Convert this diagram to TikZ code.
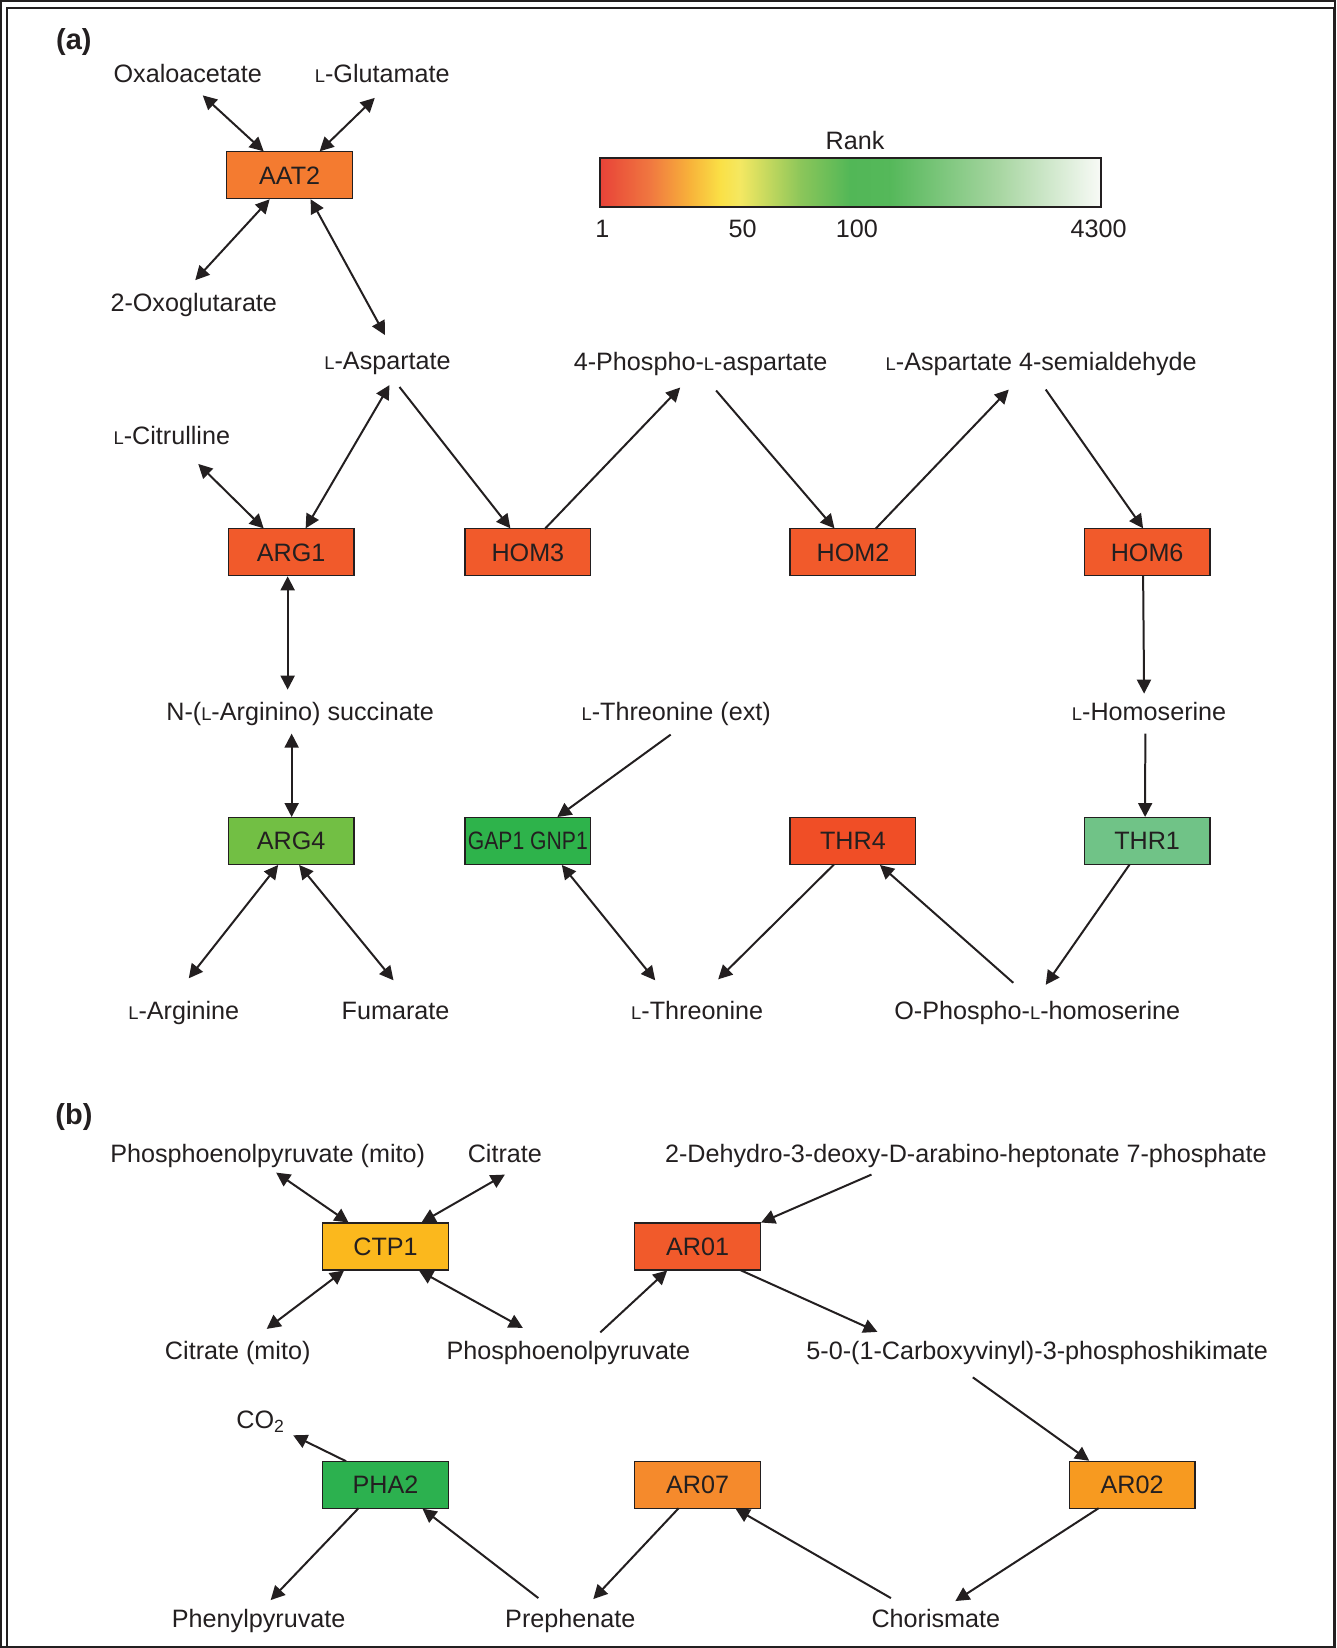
\documentclass[tikz,border=0pt]{standalone}
\usepackage{fontspec}
\setmainfont{Liberation Sans}
\usetikzlibrary{calc,arrows.meta}

\definecolor{ink}{HTML}{231F20}
\definecolor{aatc}{HTML}{F47B30}
\definecolor{homc}{HTML}{F15A2B}
\definecolor{thrfour}{HTML}{F04E26}
\definecolor{argfour}{HTML}{72BF44}
\definecolor{gapc}{HTML}{2EB34B}
\definecolor{throne}{HTML}{70C387}
\definecolor{ctpc}{HTML}{FBB81D}
\definecolor{phac}{HTML}{2CB14F}
\definecolor{arosev}{HTML}{F58A2C}
\definecolor{arotwo}{HTML}{F79A20}
\definecolor{rk0}{HTML}{E84338}
\definecolor{rk1}{HTML}{F07840}
\definecolor{rk2}{HTML}{F8B33A}
\definecolor{rk3}{HTML}{FAE046}
\definecolor{rk4}{HTML}{F4E862}
\definecolor{rk5}{HTML}{8CC65A}
\definecolor{rk6}{HTML}{52B757}
\definecolor{rk7}{HTML}{55B85A}
\definecolor{rk8}{HTML}{A8D6A2}
\definecolor{rk9}{HTML}{F8FAF6}

\newcommand{\sL}{{\fontsize{9.2pt}{9.2pt}\selectfont L}}

\begin{document}
\begin{tikzpicture}[x=0.5pt,y=-0.5pt,
	lbl/.style={text=ink,font=\fontsize{12.6pt}{15pt}\selectfont,inner sep=0pt,outer sep=0pt,text height=9pt,text depth=0pt},
	gene/.style={lbl,draw=ink,line width=0.6pt,minimum width=63pt,minimum height=23.5pt},
	panel/.style={text=ink,font=\fontsize{14.5pt}{17pt}\selectfont\bfseries,inner sep=0pt,text height=10pt,text depth=0pt},
	>={Triangle[length=7pt,width=7pt]},
	every path/.style={draw=ink,line width=1pt}]
				\useasboundingbox (0,0) rectangle (1336,1648);
				\draw[line width=1pt] (6,1648) -- (6,7) -- (1334.5,7) -- (1334.5,1648);

				\node[panel] (pa) at (73,38.5) {(a)};
				\node[panel] (pb) at (73,1114.5) {(b)};

				\shade[draw=none,left color=rk0,right color=rk1] (600,157) rectangle (650.5,206);
				\shade[draw=none,left color=rk1,right color=rk2] (650,157) rectangle (690.5,206);
				\shade[draw=none,left color=rk2,right color=rk3] (690,157) rectangle (720.5,206);
				\shade[draw=none,left color=rk3,right color=rk4] (720,157) rectangle (740.5,206);
				\shade[draw=none,left color=rk4,right color=rk5] (740,157) rectangle (800.5,206);
				\shade[draw=none,left color=rk5,right color=rk6] (800,157) rectangle (850.5,206);
				\shade[draw=none,left color=rk6,right color=rk7] (850,157) rectangle (890.5,206);
				\shade[draw=none,left color=rk7,right color=rk8] (890,157) rectangle (1000.5,206);
				\shade[draw=none,left color=rk8,right color=rk9] (1000,157) rectangle (1101,206);
				\draw[line width=1pt] (600,157) rectangle (1101,206);
				\node[lbl] (rank) at (855,139.5) {Rank};
				\node[lbl] (tka) at (602,227.5) {1};
				\node[lbl] (tkb) at (742.5,227.5) {50};
				\node[lbl] (tkc) at (857,227.5) {100};
				\node[lbl] (tkd) at (1099,227.5) {4300};

				\node[gene,fill=aatc] (aat2) at (289,174.5) {AAT2};
				\node[gene,fill=homc] (arg1) at (290.5,552) {ARG1};
				\node[gene,fill=homc] (hom3) at (527.5,552) {HOM3};
				\node[gene,fill=homc] (hom2) at (853,552) {HOM2};
				\node[gene,fill=homc] (hom6) at (1147.5,552) {HOM6};
				\node[gene,fill=argfour] (arg4) at (290.5,841) {ARG4};
				\node[gene,fill=gapc] (gap1) at (527.5,841) {\scalebox{0.84}[1]{GAP1 GNP1}};
				\node[gene,fill=thrfour] (thr4) at (853,841) {THR4};
				\node[gene,fill=throne] (thr1) at (1147.5,841) {THR1};

				\node[lbl] (oxalo) at (187,72.5) {Oxaloacetate};
				\node[lbl] (glut) at (381.7,72.5) {\sL-Glutamate};
				\node[lbl] (oxoglu) at (193,301.5) {2-Oxoglutarate};
				\node[lbl] (asp) at (387,359.5) {\sL-Aspartate};
				\node[lbl] (phasp) at (700.5,360.5) {4-Phospho-\sL-aspartate};
				\node[lbl] (semi) at (1041.5,360.5) {\sL-Aspartate 4-semialdehyde};
				\node[lbl] (citr) at (171,435) {\sL-Citrulline};
				\node[lbl] (nsucc) at (299.5,711.5) {N-(\sL-Arginino) succinate};
				\node[lbl] (thrext) at (676,711.5) {\sL-Threonine (ext)};
				\node[lbl] (homser) at (1149.5,711.5) {\sL-Homoserine};
				\node[lbl] (argn) at (183,1011) {\sL-Arginine};
				\node[lbl] (fum) at (395,1011) {Fumarate};
				\node[lbl] (thr) at (697,1011) {\sL-Threonine};
				\node[lbl] (ophos) at (1037.5,1011) {O-Phospho-\sL-homoserine};

				\draw[<->] ($(oxalo)+(15,22)$) -- ($(aat2)+(-26,-24)$);
				\draw[<->] ($(glut)+(-7.5,24.5)$) -- ($(aat2)+(30,-24)$);
				\draw[<->] ($(oxoglu)+(1.5,-22)$) -- ($(aat2)+(-20,24)$);
				\draw[<->] ($(asp)+(-2.5,-25)$) -- ($(aat2)+(21,24)$);
				\draw[<->] ($(citr)+(26.5,28.5)$) -- ($(arg1)+(-27.5,-24)$);
				\draw[<->] ($(asp)+(2,25)$) -- ($(arg1)+(14.5,-24)$);
				\draw[->] ($(asp)+(12,27)$) -- ($(hom3)+(-17.5,-24)$);
				\draw[->] ($(hom3)+(17,-23.5)$) -- ($(phasp)+(-20.5,26.5)$);
				\draw[->] ($(phasp)+(15.5,29.5)$) -- ($(hom2)+(-18.5,-24)$);
				\draw[->] ($(hom2)+(22.5,-23.5)$) -- ($(semi)+(-32.5,28.5)$);
				\draw[->] ($(semi)+(4.5,28.5)$) -- ($(hom6)+(-4,-24)$);
				\draw[->] ($(hom6)+(-4,23.5)$) -- ($(homser)+(-5,-18)$);
				\draw[<->] ($(arg1)+(-3.5,24)$) -- ($(nsucc)+(-12.5,-22)$);
				\draw[<->] ($(nsucc)+(-8.5,22)$) -- ($(arg4)+(0.5,-24)$);
				\draw[->] ($(thrext)+(-5.5,23)$) -- ($(gap1)+(29.5,-24)$);
				\draw[->] ($(homser)+(-3.8,22)$) -- ($(thr1)+(-2,-24)$);
				\draw[<->] ($(arg4)+(-13,24)$) -- ($(argn)+(5,-32.5)$);
				\draw[<->] ($(arg4)+(8,24)$) -- ($(fum)+(-2,-30.5)$);
				\draw[<->] ($(gap1)+(34,24)$) -- ($(thr)+(-42,-30.5)$);
				\draw[->] ($(thr4)+(-19,23.5)$) -- ($(thr)+(21,-31.5)$);
				\draw[->] ($(ophos)+(-24,-28)$) -- ($(thr4)+(27,24)$);
				\draw[->] ($(thr1)+(-17.5,23.5)$) -- ($(ophos)+(8.5,-26)$);

				\node[gene,fill=ctpc] (ctp1) at (385,1247) {CTP1};
				\node[gene,fill=homc] (aro1) at (697.5,1247) {AR01};
				\node[gene,fill=phac] (pha2) at (385,1485.5) {PHA2};
				\node[gene,fill=arosev] (aro7) at (697.5,1485.5) {AR07};
				\node[gene,fill=arotwo] (aro2) at (1132.5,1485.5) {AR02};

				\node[lbl] (pepm) at (267,1154) {Phosphoenolpyruvate (mito)};
				\node[lbl] (citra) at (504.5,1154) {Citrate};
				\node[lbl] (dahp) at (966,1154) {2-Dehydro-3-deoxy-D-arabino-heptonate 7-phosphate};
				\node[lbl] (citm) at (237,1351) {Citrate (mito)};
				\node[lbl] (pep) at (568,1351) {Phosphoenolpyruvate};
				\node[lbl] (cvps) at (1037.5,1351.5) {5-0-(1-Carboxyvinyl)-3-phosphoshikimate};
				\node[lbl] (co2) at (260,1420.5) {CO\textsubscript{2}};
				\node[lbl] (phen) at (258,1619) {Phenylpyruvate};
				\node[lbl] (preph) at (570,1619) {Prephenate};
				\node[lbl] (chor) at (936,1619) {Chorismate};

				\draw[<->] ($(pepm)+(8.5,19)$) -- ($(ctp1)+(-37,-24)$);
				\draw[<->] ($(citra)+(0,21)$) -- ($(ctp1)+(36,-24)$);
				\draw[<->] ($(citm)+(29,-21.5)$) -- ($(ctp1)+(-41.5,24)$);
				\draw[<->] ($(pep)+(-45.5,-22.5)$) -- ($(ctp1)+(33.5,24)$);
				\draw[->] ($(dahp)+(-94.5,21)$) -- ($(aro1)+(63.5,-24)$);
				\draw[->] ($(pep)+(32,-18)$) -- ($(aro1)+(-30.5,24)$);
				\draw[->] ($(aro1)+(42.5,23.5)$) -- ($(cvps)+(-160,-19)$);
				\draw[->] ($(cvps)+(-64.5,26.5)$) -- ($(aro2)+(-43,-24)$);
				\draw[->] ($(pha2)+(-39.5,-23.5)$) -- ($(co2)+(32.5,15.5)$);
				\draw[->] ($(pha2)+(-27,23.5)$) -- ($(phen)+(12,-18)$);
				\draw[->] ($(preph)+(-32,-20)$) -- ($(pha2)+(37,24)$);
				\draw[->] ($(aro7)+(-19,23.5)$) -- ($(preph)+(23,-19)$);
				\draw[->] ($(chor)+(-45,-20)$) -- ($(aro7)+(38,24)$);
				\draw[->] ($(aro2)+(-33.5,23.5)$) -- ($(chor)+(19.5,-17)$);
			\end{tikzpicture}
\end{document}
